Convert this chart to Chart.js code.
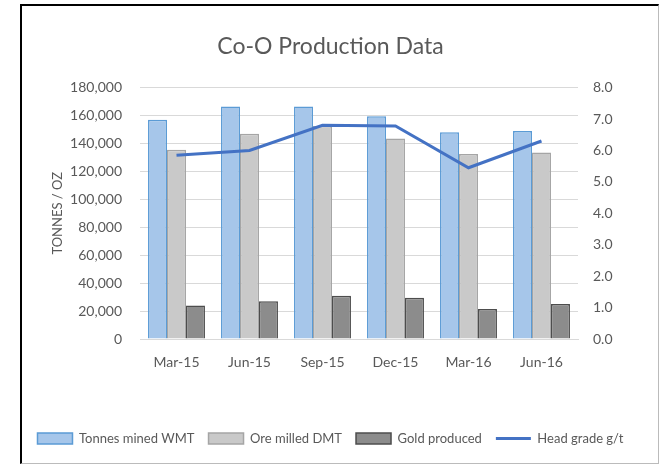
<!DOCTYPE html>
<html>
<head>
<meta charset="utf-8">
<script src="https://cdn.jsdelivr.net/npm/chart.js@4/dist/chart.umd.min.js"></script>
<style>
  html, body { margin: 0; padding: 0; background: #fff; }
  #frame { position: absolute; left: 20px; top: 4px; width: 636px; height: 457px;
           border-left: 2px solid #000; border-top: 2px solid #000;
           border-right: 1px solid #bbb; border-bottom: 1px solid #bbb; }
  #wrap { position: absolute; left: 0; top: 0; width: 661px; height: 467px; }
</style>
</head>
<body>
<div id="frame"></div>
<div id="wrap"><canvas id="c" width="661" height="467"></canvas></div>
<script>
const categories = ['Mar-15', 'Jun-15', 'Sep-15', 'Dec-15', 'Mar-16', 'Jun-16'];
const tonnesMined = [157000, 166500, 166500, 159500, 148000, 149000];
const oreMilled   = [135500, 147000, 152500, 143500, 132500, 133500];
const goldProduced = [24000, 27000, 31000, 29500, 21500, 25000];
const headGrade   = [5.85, 6.0, 6.8, 6.78, 5.45, 6.3];
const leftTicks = [0, 20000, 40000, 60000, 80000, 100000, 120000, 140000, 160000, 180000];
const rightTicks = [0, 1, 2, 3, 4, 5, 6, 7, 8];

const FONT = "Lato, 'Open Sans', sans-serif";
const TXT = '#595959';

new Chart(document.getElementById('c'), {
  data: {
    labels: categories,
    datasets: [
      { type: 'bar', label: 'Tonnes mined WMT', data: tonnesMined, yAxisID: 'y',
        backgroundColor: '#A6C6EA', borderColor: '#5B9BD5', borderWidth: 1.5, pointStyle: 'rect', order: 1 },
      { type: 'bar', label: 'Ore milled DMT', data: oreMilled, yAxisID: 'y',
        backgroundColor: '#C9C9C9', borderColor: '#A5A5A5', borderWidth: 1.5, pointStyle: 'rect', order: 1 },
      { type: 'bar', label: 'Gold produced', data: goldProduced, yAxisID: 'y',
        backgroundColor: '#8C8C8C', borderColor: '#4D4D4D', borderWidth: 1.5, pointStyle: 'rect', order: 1 },
      { type: 'line', label: 'Head grade g/t', data: headGrade, yAxisID: 'y1',
        borderColor: '#4472C4', backgroundColor: '#4472C4', borderWidth: 3, pointRadius: 0,
        tension: 0, pointStyle: 'line', order: 0 }
    ]
  },
  options: {
    responsive: false,
    animation: false,
    devicePixelRatio: 1,
    layout: { padding: { left: 0, right: 0, top: 33, bottom: 12 } },
    datasets: { bar: { categoryPercentage: 0.78, barPercentage: 1.0 } },
    plugins: {
      title: { display: true, text: 'Co-O Production Data', color: TXT,
               font: { family: FONT, size: 23, weight: 'normal' }, padding: { top: 0, bottom: 27 } },
      legend: { position: 'bottom',
        labels: { usePointStyle: true, pointStyleWidth: 35, boxHeight: 11, padding: 14,
                  color: TXT, font: { family: FONT, size: 13 },
                  sort: (a, b) => a.datasetIndex - b.datasetIndex } },
      tooltip: { enabled: false }
    },
    scales: {
      x: { grid: { display: false }, border: { display: true, color: '#D9D9D9', width: 1 },
           ticks: { color: TXT, font: { family: FONT, size: 14 }, padding: 7 },
           afterFit: s => { s.height = 79; } },
      y: { position: 'left', min: 0, max: 180000,
           afterBuildTicks: s => { s.ticks = leftTicks.map(v => ({ value: v })); },
           grid: { color: '#D9D9D9', drawTicks: false }, border: { display: false },
           ticks: { color: TXT, font: { family: FONT, size: 14 }, padding: 18,
                    callback: v => v.toLocaleString('en-US') },
           title: { display: true, text: 'TONNES / OZ', color: TXT, font: { family: FONT, size: 13 },
                    padding: { top: 50, bottom: 0 } },
           afterFit: s => { s.width = 140; } },
      y1: { position: 'right', min: 0, max: 8,
            afterBuildTicks: s => { s.ticks = rightTicks.map(v => ({ value: v })); },
            grid: { display: false, drawTicks: false }, border: { display: false },
            ticks: { color: TXT, font: { family: FONT, size: 14 }, padding: 15,
                     callback: v => Number(v).toFixed(1) },
            afterFit: s => { s.width = 83; } }
    }
  }
});
</script>
</body>
</html>
